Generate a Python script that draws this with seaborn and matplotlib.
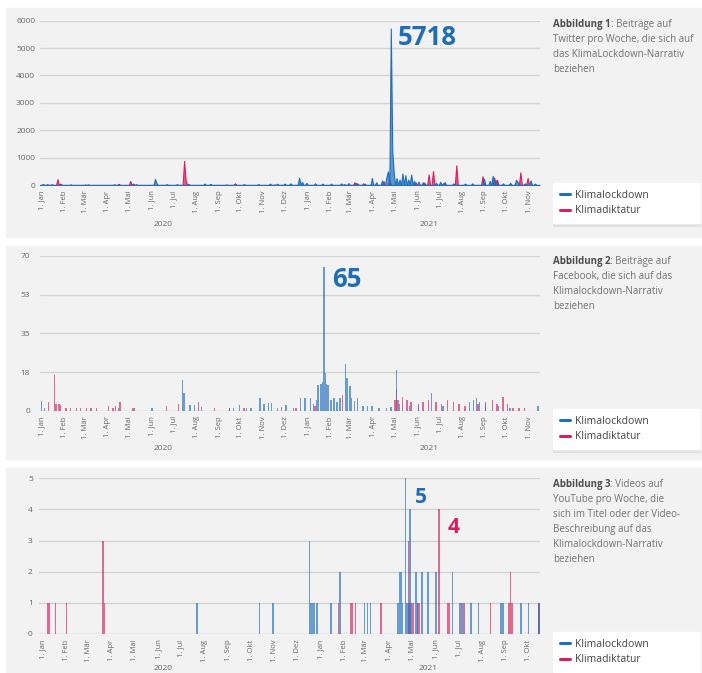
import numpy as np
import pandas as pd
import matplotlib.pyplot as plt
import matplotlib.dates as mdates
import matplotlib.transforms as mtransforms
from matplotlib.patches import Rectangle
from matplotlib.lines import Line2D
from matplotlib.text import Annotation
import seaborn as sns

# ---------------------------------------------------------
# DATA (Datum -> Wert)
# ---------------------------------------------------------
# Abbildung 1: Twitter
tw_lockdown_dates = ["2020-01-02", "2020-01-08", "2020-01-15", "2020-02-10", "2020-03-05", "2020-04-10",
                     "2020-05-10", "2020-06-04", "2020-06-07", "2020-06-20", "2020-07-05", "2020-07-20",
                     "2020-08-12", "2020-08-20", "2020-09-10", "2020-10-05", "2020-10-25", "2020-11-10",
                     "2020-11-20", "2020-11-30", "2020-12-08", "2020-12-20", "2020-12-24", "2020-12-30",
                     "2021-01-10", "2021-01-20", "2021-02-01", "2021-02-15", "2021-02-25", "2021-03-08",
                     "2021-03-18", "2021-03-30", "2021-04-05", "2021-04-12", "2021-04-18", "2021-04-21",
                     "2021-04-24", "2021-04-26", "2021-04-28", "2021-05-02", "2021-05-06", "2021-05-10",
                     "2021-05-14", "2021-05-18", "2021-05-22", "2021-05-26", "2021-06-02", "2021-06-10",
                     "2021-06-25", "2021-07-02", "2021-07-08", "2021-07-20", "2021-08-05", "2021-08-15",
                     "2021-08-30", "2021-09-08", "2021-09-12", "2021-09-16", "2021-09-25", "2021-10-05",
                     "2021-10-13", "2021-10-16", "2021-10-25", "2021-11-03", "2021-11-08"]
tw_lockdown_values = [40, 30, 30, 20, 20, 25,
                      30, 220, 70, 30, 30, 40,
                      50, 40, 20, 30, 30, 50,
                      45, 50, 60, 270, 120, 80,
                      60, 50, 50, 60, 70, 80,
                      60, 255, 100, 165, 300, 500,
                      5718, 1250, 450, 250, 200, 420,
                      360, 200, 385, 150, 120, 90,
                      80, 120, 110, 60, 50, 60,
                      230, 150, 335, 180, 60, 80,
                      190, 120, 60, 170, 50]
tw_diktatur_dates = ["2020-01-23", "2020-01-27", "2020-03-01", "2020-04-15", "2020-05-01", "2020-05-05",
                     "2020-07-14", "2020-07-16", "2020-09-23", "2020-11-15", "2021-02-20", "2021-03-05",
                     "2021-03-10", "2021-03-20", "2021-04-14", "2021-04-22", "2021-05-28", "2021-06-08",
                     "2021-06-16", "2021-06-21", "2021-07-05", "2021-07-24", "2021-08-28", "2021-09-14",
                     "2021-09-18", "2021-10-20", "2021-10-30"]
tw_diktatur_values = [210, 50, 15, 40, 150, 50,
                      880, 200, 60, 20, 30, 100,
                      60, 50, 140, 200, 100, 100,
                      385, 510, 70, 720, 320, 270,
                      190, 460, 255]

# Abbildung 2: Facebook
fb_lockdown_dates = ["2020-01-01", "2020-01-04", "2020-04-15", "2020-05-08", "2020-06-01", "2020-07-13",
                     "2020-07-15", "2020-07-22", "2020-07-28", "2020-08-07", "2020-09-15", "2020-09-20",
                     "2020-09-28", "2020-10-08", "2020-10-15", "2020-10-27", "2020-11-02", "2020-11-07",
                     "2020-11-12", "2020-11-20", "2020-12-01", "2020-12-12", "2020-12-22", "2020-12-28",
                     "2021-01-04", "2021-01-08", "2021-01-12", "2021-01-15", "2021-01-18", "2021-01-20",
                     "2021-01-22", "2021-01-24", "2021-01-26", "2021-01-29", "2021-02-02", "2021-02-06",
                     "2021-02-10", "2021-02-14", "2021-02-21", "2021-02-23", "2021-02-27", "2021-03-02",
                     "2021-03-06", "2021-03-10", "2021-03-18", "2021-03-24", "2021-03-30", "2021-04-08",
                     "2021-04-18", "2021-04-25", "2021-05-03", "2021-05-06", "2021-05-20", "2021-06-02",
                     "2021-06-19", "2021-07-05", "2021-08-10", "2021-08-16", "2021-08-20", "2021-08-25",
                     "2021-09-02", "2021-09-20", "2021-10-05", "2021-11-12"]
fb_lockdown_values = [4.5, 1, 1, 1, 1, 14,
                      8, 2.5, 2.5, 1.5, 1, 1,
                      2.5, 1, 1, 5.7, 3, 3.3,
                      3.5, 1, 2.5, 1, 5.7, 5.7,
                      5.7, 3, 5, 11.6, 12, 13,
                      65, 17, 12, 11.6, 5, 5.6,
                      4, 5.6, 21, 15, 11, 5.6,
                      4.5, 5.6, 2, 2, 2, 1,
                      1, 1.5, 18.5, 3, 2, 2,
                      8, 2, 4, 5, 5.6, 4,
                      3, 2, 1, 2]
fb_diktatur_dates = ["2020-01-10", "2020-01-19", "2020-01-21", "2020-01-24", "2020-01-27", "2020-02-03",
                     "2020-02-10", "2020-02-17", "2020-02-24", "2020-03-02", "2020-03-09", "2020-03-16",
                     "2020-04-01", "2020-04-08", "2020-04-12", "2020-04-17", "2020-05-05", "2020-06-20",
                     "2020-07-07", "2020-08-03", "2020-08-25", "2020-09-15", "2020-10-05", "2020-11-25",
                     "2020-12-15", "2021-01-10", "2021-02-18", "2021-04-30", "2021-05-02", "2021-05-05",
                     "2021-05-10", "2021-05-16", "2021-05-22", "2021-06-01", "2021-06-08", "2021-06-15",
                     "2021-06-25", "2021-07-03", "2021-07-12", "2021-07-20", "2021-07-28", "2021-08-05",
                     "2021-08-22", "2021-09-01", "2021-09-12", "2021-09-18", "2021-09-25", "2021-10-02",
                     "2021-10-10", "2021-10-18", "2021-10-25"]
fb_diktatur_values = [4, 16, 3, 3, 2.5, 1,
                      1, 1, 1, 1, 1, 1,
                      2, 1, 2, 4, 1, 2,
                      3, 4, 1, 1, 1, 1.5,
                      1, 2, 7, 5, 10, 5,
                      6, 5, 4, 3, 4, 5,
                      4, 3, 5, 4, 3, 2,
                      3, 4, 5, 3, 6, 3,
                      1, 1, 1]

# Abbildung 3: YouTube
yt_lockdown_dates = ["2020-07-21", "2020-10-11", "2020-10-30", "2020-12-16", "2020-12-18", "2020-12-20",
                     "2020-12-23", "2020-12-26", "2021-01-14", "2021-01-25", "2021-02-26", "2021-03-02",
                     "2021-03-06", "2021-04-12", "2021-04-14", "2021-04-16", "2021-04-18", "2021-04-21",
                     "2021-04-23", "2021-04-25", "2021-04-27", "2021-04-30", "2021-05-05", "2021-05-08",
                     "2021-05-14", "2021-05-22", "2021-05-31", "2021-06-22", "2021-07-03", "2021-07-06",
                     "2021-07-17", "2021-07-27", "2021-08-26", "2021-08-28", "2021-09-20", "2021-09-30",
                     "2021-10-14"]
yt_lockdown_values = [1, 1, 1, 3, 1, 1,
                      1, 1, 1, 2, 1, 1,
                      1, 1, 2, 2, 1, 5,
                      1, 1, 4, 1, 2, 1,
                      2, 2, 2, 2, 1, 1,
                      1, 1, 1, 1, 1, 1,
                      1]
yt_diktatur_dates = ["2020-01-08", "2020-01-10", "2020-01-17", "2020-02-01", "2020-03-20", "2020-03-22",
                     "2021-01-23", "2021-02-08", "2021-02-11", "2021-02-14", "2021-03-20", "2021-04-25",
                     "2021-04-28", "2021-05-02", "2021-05-07", "2021-05-10", "2021-06-04", "2021-06-17",
                     "2021-06-19", "2021-07-05", "2021-07-08", "2021-08-12", "2021-09-04", "2021-09-06",
                     "2021-09-08", "2021-10-14"]
yt_diktatur_values = [1, 1, 1, 1, 3, 1,
                      1, 1, 1, 1, 1, 3,
                      1, 1, 1, 1, 4, 1,
                      1, 1, 1, 1, 1, 2,
                      1, 1]

MONATE = ["Jan", "Feb", "Mär", "Apr", "Mai", "Jun", "Jul", "Aug", "Sep", "Okt", "Nov", "Dez"]
SERIEN = ["Klimalockdown", "Klimadiktatur"]
BLAU, PINK = "#1f6fbf", "#d81e5b"

captions = [
    ["Abbildung 1", ": Beiträge auf", "Twitter pro Woche, die sich auf", "das KlimaLockdown-Narrativ", "beziehen"],
    ["Abbildung 2", ": Beiträge auf", "Facebook, die sich auf das", "Klimalockdown-Narrativ", "beziehen"],
    ["Abbildung 3", ": Videos auf", "YouTube pro Woche, die", "sich im Titel oder der Video-",
     "Beschreibung auf das", "Klimalockdown-Narrativ", "beziehen"],
]

# ---------------------------------------------------------
# SETUP
# ---------------------------------------------------------
sns.set_theme(style="white")
plt.rcParams["font.family"] = ["Open Sans", "DejaVu Sans"]

W, H = 702, 673
fig = plt.figure(figsize=(W / 100, H / 100), dpi=100)
fig.patch.set_facecolor("white")


def fx(x):
    return x / W


def fy(y):
    return 1 - y / H


def frame(ld_dates, ld_vals, kd_dates, kd_vals):
    return pd.concat([
        pd.DataFrame({"datum": pd.to_datetime(ld_dates), "wert": ld_vals, "serie": SERIEN[0]}),
        pd.DataFrame({"datum": pd.to_datetime(kd_dates), "wert": kd_vals, "serie": SERIEN[1]}),
    ], ignore_index=True)


def panel(box, axbox, df, element, alpha, lw, xlim, month_end, ylim, yticks, ylabels, ypad,
          years, year_y, caption, cap_y, legend_y):
    # grauer Hintergrund
    x0, y0, x1, y1 = box
    fig.add_artist(Rectangle((fx(x0), fy(y1)), (x1 - x0) / W, (y1 - y0) / H,
                             transform=fig.transFigure, color="#f2f2f2", zorder=-5))
    a0, b0, a1, b1 = axbox
    ax = fig.add_axes([fx(a0), fy(b1), (a1 - a0) / W, (b1 - b0) / H])
    ax.set_facecolor("none")

    lo, hi = pd.Timestamp(xlim[0]), pd.Timestamp(xlim[1])
    sns.histplot(data=df, x="datum", weights="wert", hue="serie", hue_order=SERIEN,
                 palette={SERIEN[0]: BLAU, SERIEN[1]: PINK}, binwidth=2,
                 binrange=(mdates.date2num(lo - pd.Timedelta(days=1)), mdates.date2num(hi)),
                 multiple="layer", element=element, fill=True, alpha=alpha, linewidth=lw,
                 legend=False, ax=ax)
    ax.set_xlim(lo, hi)
    ax.set_ylim(*ylim)
    ax.set(xlabel="", ylabel="")

    ticks = pd.date_range("2020-01-01", month_end, freq="MS")
    ax.set_xticks(ticks)
    ax.set_xticklabels([f"1. {MONATE[t.month - 1]}" for t in ticks], rotation=90,
                       fontsize=5.5, color="#666666")
    ax.set_yticks(yticks)
    ax.set_yticklabels(ylabels, fontsize=6, color="#666666")
    ax.tick_params(axis="x", length=0, pad=4)
    ax.tick_params(axis="y", length=0, pad=ypad)
    ax.yaxis.grid(True, color="#d3d3d3", lw=1.0)
    ax.xaxis.grid(False)
    ax.set_axisbelow(True)
    sns.despine(ax=ax, left=True, bottom=True)

    trans = mtransforms.blended_transform_factory(ax.transData, fig.transFigure)
    for label, day in years:
        ax.text(mdates.date2num(pd.Timestamp(day)), fy(year_y), label, transform=trans,
                ha="center", va="center", fontsize=6, color="#666666")

    # Bildunterschrift rechts
    bold = fig.text(fx(553), fy(cap_y), caption[0], fontsize=7, fontweight="bold",
                    color="#4d4d4d", va="baseline", ha="left")
    fig.add_artist(Annotation(caption[1], xy=(1, 0), xycoords=bold, va="bottom", ha="left",
                              fontsize=7, color="#707070"))
    for i, line in enumerate(caption[2:]):
        fig.text(fx(553), fy(cap_y + 15 * (i + 1)), line, fontsize=7, color="#707070",
                 va="baseline", ha="left")

    handles = [Line2D([0], [0], color=BLAU, lw=2.2), Line2D([0], [0], color=PINK, lw=2.2)]
    fig.legend(handles, SERIEN, loc="upper left",
               bbox_to_anchor=(fx(553), fy(legend_y), fx(700) - fx(553), 0),
               mode="expand", borderaxespad=0, frameon=True, fancybox=False,
               facecolor="white", edgecolor="white", framealpha=1,
               shadow={"ox": 0.3, "oy": -2.0, "shade": 0.25, "alpha": 0.25},
               fontsize=7.5, handlelength=1.0, handletextpad=0.5, borderpad=0.65,
               labelspacing=0.45, labelcolor="#444444")
    return ax


# ---------------------------------------------------------
# PANELS
# ---------------------------------------------------------
panel((6, 8, 702, 237), (40, 20.7, 540, 185), frame(tw_lockdown_dates, tw_lockdown_values,
                                                      tw_diktatur_dates, tw_diktatur_values),
      "poly", 0.7, 0.8, ("2019-12-30", "2021-11-16"), "2021-11-01",
      (0, 6000), list(range(0, 6001, 1000)), [str(v) for v in range(0, 6001, 1000)], 3.5,
      [("2020", "2020-06-16"), ("2021", "2021-06-17")], 225, captions[0], 27, 183)

panel((6, 246, 702, 459), (40, 256, 540, 410.7), frame(fb_lockdown_dates, fb_lockdown_values,
                                                         fb_diktatur_dates, fb_diktatur_values),
      "bars", 0.65, 0, ("2019-12-30", "2021-11-16"), "2021-11-01",
      (0, 70), [0, 17.5, 35, 52.5, 70], ["0", "18", "35", "53", "70"], 7,
      [("2020", "2020-06-16"), ("2021", "2021-06-17")], 448, captions[1], 264, 409)

panel((6, 468, 702, 673), (39, 478.3, 540, 634), frame(yt_lockdown_dates, yt_lockdown_values,
                                                         yt_diktatur_dates, yt_diktatur_values),
      "bars", 0.65, 0, ("2019-12-27", "2021-10-16"), "2021-10-01",
      (0, 5), [0, 1, 2, 3, 4, 5], ["0", "1", "2", "3", "4", "5"], 4.5,
      [("2020", "2020-06-07"), ("2021", "2021-05-22")], 668, captions[2], 487, 632)

# Spitzenwerte
fig.text(fx(398), fy(45), "5718", fontsize=18.5, fontweight="bold", color="#1f6db5", va="baseline")
fig.text(fx(332), fy(287), "65", fontsize=18.5, fontweight="bold", color="#1f6db5", va="baseline")
fig.text(fx(415), fy(503), "5", fontsize=15, fontweight="bold", color="#1f6db5", va="baseline")
fig.text(fx(448), fy(533), "4", fontsize=15, fontweight="bold", color=PINK, va="baseline")

fig.savefig("out.png", dpi=100)
